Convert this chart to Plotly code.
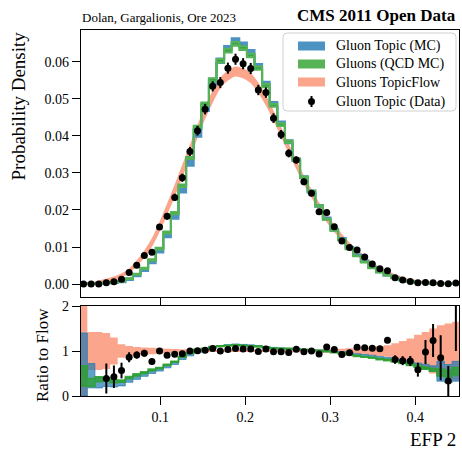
import numpy as np
import plotly.graph_objects as go

# ---- binning -------------------------------------------------------------
N_BINS = 50
BIN_LO, BIN_HI = 0.0052, 0.4522
X_RANGE = [0.0067, 0.4514]
edges = np.linspace(BIN_LO, BIN_HI, N_BINS + 1)
centers = 0.5 * (edges[:-1] + edges[1:])

# ---- densities per bin -----------------------------------------------------
flow = np.array([
    0.00010, 0.00025, 0.00050, 0.00090, 0.00140, 0.00230, 0.00360, 0.00560, 0.00810, 0.01120,
    0.01540, 0.02020, 0.02520, 0.03050, 0.03580, 0.04120, 0.04630, 0.05060, 0.05430, 0.05630,
    0.05740, 0.05690, 0.05560, 0.05300, 0.04960, 0.04550, 0.04100, 0.03660, 0.03230, 0.02800,
    0.02450, 0.02090, 0.01770, 0.01500, 0.01260, 0.01030, 0.00850, 0.00680, 0.00510, 0.00390,
    0.00290, 0.00210, 0.00140, 0.00090, 0.00065, 0.00045, 0.00030, 0.00020, 0.00015, 0.00010])
flow_rel_err = np.array([
    1.20, 0.42, 0.42, 0.40, 0.30, 0.15, 0.11, 0.09, 0.08, 0.07,
    0.06, 0.05, 0.045, 0.04, 0.035, 0.03, 0.027, 0.024, 0.02, 0.02,
    0.02, 0.02, 0.02, 0.02, 0.02, 0.02, 0.022, 0.024, 0.026, 0.028,
    0.03, 0.035, 0.04, 0.045, 0.05, 0.06, 0.07, 0.08, 0.10, 0.11,
    0.13, 0.17, 0.22, 0.28, 0.36, 0.42, 0.50, 0.57, 0.61, 0.65])

gluon_topic_mc = np.array([
    0.000070, 0.000113, 0.000150, 0.000252, 0.000378, 0.000644, 0.001296, 0.002352, 0.003888, 0.006048,
    0.009086, 0.013332, 0.018396, 0.025620, 0.032936, 0.040788, 0.047689, 0.054648, 0.060273, 0.063619,
    0.065723, 0.064582, 0.062550, 0.058830, 0.054064, 0.048685, 0.043460, 0.038430, 0.033592, 0.028840,
    0.024990, 0.021109, 0.017700, 0.014700, 0.012222, 0.009785, 0.007820, 0.006120, 0.004488, 0.003315,
    0.002407, 0.001680, 0.001078, 0.000657, 0.000449, 0.000293, 0.000183, 0.000110, 0.000075, 0.000055])
gluon_topic_mc_rel_err = np.array([
    1.00, 0.60, 0.40, 0.25, 0.25, 0.20, 0.15, 0.12, 0.09, 0.07,
    0.06, 0.05, 0.04, 0.035, 0.03, 0.025, 0.02, 0.015, 0.01, 0.01,
    0.01, 0.01, 0.01, 0.01, 0.01, 0.01, 0.01, 0.01, 0.01, 0.01,
    0.01, 0.012, 0.014, 0.016, 0.018, 0.02, 0.022, 0.025, 0.028, 0.03,
    0.032, 0.035, 0.04, 0.05, 0.06, 0.08, 0.10, 0.40, 0.40, 0.40])

gluons_qcd_mc = np.array([
    0.000045, 0.000075, 0.000185, 0.000333, 0.000462, 0.000759, 0.001476, 0.002632, 0.004212, 0.006496,
    0.009548, 0.013938, 0.019152, 0.026535, 0.034010, 0.042436, 0.048615, 0.055154, 0.060273, 0.063056,
    0.064862, 0.063728, 0.061716, 0.058300, 0.053568, 0.048230, 0.043050, 0.038430, 0.033592, 0.028840,
    0.024990, 0.021109, 0.017523, 0.014550, 0.011970, 0.009476, 0.007565, 0.005916, 0.004335, 0.003198,
    0.002320, 0.001617, 0.001036, 0.000630, 0.000429, 0.000279, 0.000174, 0.000104, 0.000075, 0.000055])
gluons_qcd_mc_rel_err = np.array([
    0.50, 0.30, 0.15, 0.10, 0.10, 0.08, 0.06, 0.05, 0.04, 0.03,
    0.025, 0.02, 0.015, 0.012, 0.008, 0.008, 0.008, 0.008, 0.008, 0.008,
    0.008, 0.008, 0.008, 0.008, 0.008, 0.008, 0.008, 0.008, 0.008, 0.008,
    0.008, 0.008, 0.008, 0.01, 0.01, 0.01, 0.012, 0.012, 0.014, 0.016,
    0.018, 0.02, 0.025, 0.03, 0.035, 0.04, 0.05, 0.15, 0.15, 0.15])

data = np.array([
    0.0, 0.0, 0.0, 0.00035, 0.00060, 0.00130, 0.00310, 0.00510, 0.00770, 0.00860,
    0.01540, 0.01830, 0.02340, 0.02870, 0.03580, 0.04140, 0.04720, 0.05340, 0.05440, 0.05830,
    0.06070, 0.05950, 0.05820, 0.05240, 0.05170, 0.04480, 0.04040, 0.03530, 0.03350, 0.02760,
    0.02450, 0.01950, 0.01930, 0.01550, 0.01160, 0.00990, 0.00920, 0.00730, 0.00540, 0.00410,
    0.00360, 0.00170, 0.00110, 0.00070, 0.00038, 0.00044, 0.00037, 0.00017, 0.00005, 0.00026])
data_err = np.array([
    0.0, 0.0, 0.0, 0.00030, 0.00035, 0.00040, 0.00040, 0.00045, 0.00060, 0.00070,
    0.00080, 0.00090, 0.00100, 0.00110, 0.00120, 0.00130, 0.00140, 0.00140, 0.00150, 0.00150,
    0.00150, 0.00150, 0.00150, 0.00140, 0.00140, 0.00130, 0.00120, 0.00110, 0.00100, 0.00090,
    0.00080, 0.00070, 0.00070, 0.00060, 0.00050, 0.00040, 0.00040, 0.00030, 0.00028, 0.00025,
    0.00020, 0.00020, 0.00014, 0.00010, 0.00010, 0.00012, 0.00011, 0.00010, 0.00005, 0.00016])

LABELS = ["Gluon Topic (MC)", "Gluons (QCD MC)", "Gluons TopicFlow", "Gluon Topic (Data)"]
MAIN_YTICKS = [0.00, 0.01, 0.02, 0.03, 0.04, 0.05, 0.06]
RATIO_YTICKS = [0, 1, 2]
XTICKS = [0.1, 0.2, 0.3, 0.4]

# ---- style ------------------------------------------------------------------
FONT = "Liberation Serif"
BLUE_FILL, BLUE_LINE = "rgba(31,119,180,0.8)", "rgb(76,146,195)"
GREEN_FILL, GREEN_LINE = "rgba(44,160,44,0.8)", "rgb(86,179,86)"
SALMON_FILL, SALMON_LINE = "rgba(250,150,120,0.85)", "rgb(251,166,140)"

W, H = 462, 458
ML, MR, MT, MB = 81, 3, 30, 62
PW, PH = W - ML - MR, H - MT - MB


def xp(px):
    return (px - ML) / PW


def yp(py):
    return (H - MB - py) / PH


def stepped(v):
    return np.append(v, v[-1])


fig = go.Figure()


def step_band(lo, hi, fill, line, xa, ya, lw=1.2):
    fig.add_trace(go.Scatter(x=edges, y=stepped(hi), mode="lines", xaxis=xa, yaxis=ya,
                             line=dict(shape="hv", color=line, width=lw),
                             showlegend=False, hoverinfo="skip"))
    fig.add_trace(go.Scatter(x=edges, y=stepped(lo), mode="lines", xaxis=xa, yaxis=ya,
                             line=dict(shape="hv", color=line, width=lw), fill="tonexty",
                             fillcolor=fill, showlegend=False, hoverinfo="skip"))


# ---- main panel -------------------------------------------------------------
flow_hi = flow * (1 + flow_rel_err)
flow_lo = np.clip(flow * (1 - flow_rel_err), 0, None)
fig.add_trace(go.Scatter(x=centers, y=flow_hi, mode="lines", xaxis="x", yaxis="y",
                         line=dict(color=SALMON_LINE, width=1.5, shape="spline"),
                         showlegend=False, hoverinfo="skip"))
fig.add_trace(go.Scatter(x=centers, y=flow_lo, mode="lines", xaxis="x", yaxis="y",
                         line=dict(color=SALMON_LINE, width=1.5, shape="spline"), fill="tonexty",
                         fillcolor=SALMON_LINE, showlegend=False, hoverinfo="skip"))

step_band(gluon_topic_mc * (1 - gluon_topic_mc_rel_err), gluon_topic_mc * (1 + gluon_topic_mc_rel_err),
          BLUE_FILL, BLUE_LINE, "x", "y", lw=2)
step_band(gluons_qcd_mc * (1 - gluons_qcd_mc_rel_err), gluons_qcd_mc * (1 + gluons_qcd_mc_rel_err),
          GREEN_FILL, GREEN_LINE, "x", "y", lw=2)

fig.add_trace(go.Scatter(x=centers, y=data, mode="markers", xaxis="x", yaxis="y",
                         marker=dict(color="black", size=7),
                         error_y=dict(type="data", array=data_err, color="black", thickness=2, width=0),
                         showlegend=False, hoverinfo="skip"))

# ---- ratio panel ------------------------------------------------------------
step_band(np.clip(1 - flow_rel_err, 0, None), 1 + flow_rel_err, SALMON_FILL, "rgba(250,150,120,0.0)",
          "x2", "y2", lw=0)
r_blue = gluon_topic_mc / flow
step_band(r_blue * (1 - gluon_topic_mc_rel_err), r_blue * (1 + gluon_topic_mc_rel_err),
          "rgba(31,119,180,0.7)", "rgba(31,119,180,0.7)", "x2", "y2", lw=1)
r_green = gluons_qcd_mc / flow
step_band(r_green * (1 - gluons_qcd_mc_rel_err), r_green * (1 + gluons_qcd_mc_rel_err),
          "rgba(44,160,44,0.75)", "rgba(44,160,44,0.85)", "x2", "y2", lw=1.5)

has_data = data > 0
r_data = np.where(has_data, data / flow, np.nan)
r_err = np.where(has_data, data_err / flow, np.nan)
fig.add_trace(go.Scatter(x=centers, y=r_data, mode="markers", xaxis="x2", yaxis="y2",
                         marker=dict(color="black", size=7),
                         error_y=dict(type="data", array=r_err, color="black", thickness=2, width=0),
                         showlegend=False, hoverinfo="skip"))

# ---- axes -------------------------------------------------------------------
axis_common = dict(showline=True, linecolor="black", linewidth=1.3, mirror=True,
                   ticks="outside", ticklen=8, tickwidth=1.2, tickcolor="black",
                   showgrid=False, zeroline=False,
                   tickfont=dict(family=FONT, size=14, color="black"))
split = (H - MB - 297) / PH
fig.update_layout(
    width=W, height=H, margin=dict(l=ML, r=MR, t=MT, b=MB),
    paper_bgcolor="white", plot_bgcolor="white", showlegend=False,
    xaxis=dict(anchor="y", domain=[0, 1], range=X_RANGE, tickvals=XTICKS,
               showticklabels=False, **axis_common),
    yaxis=dict(anchor="x", domain=[split, 1], range=[-0.0035, 0.0686],
               tickvals=MAIN_YTICKS, tickformat=".2f", **axis_common),
    xaxis2=dict(anchor="y2", domain=[0, 1], range=X_RANGE, tickvals=XTICKS,
                ticktext=[str(t) for t in XTICKS], matches="x", **axis_common),
    yaxis2=dict(anchor="x2", domain=[0, (H - MB - 306) / PH], range=[0, 2],
                tickvals=RATIO_YTICKS, **axis_common),
)

# ---- text -------------------------------------------------------------------
ann = []
ann.append(dict(text="Dolan, Gargalionis, Ore 2023", x=xp(80), y=yp(17), xanchor="left",
                yanchor="middle", font=dict(family=FONT, size=13, color="black")))
ann.append(dict(text="<b>CMS 2011 Open Data</b>", x=xp(458), y=yp(16), xanchor="right",
                yanchor="middle", font=dict(family=FONT, size=17, color="black")))
ann.append(dict(text="Probability Density", x=xp(18), y=yp(30), xanchor="center", yanchor="top",
                textangle=-90, font=dict(family=FONT, size=19, color="black")))
ann.append(dict(text="Ratio to Flow", x=xp(42), y=yp(306), xanchor="center", yanchor="top",
                textangle=-90, font=dict(family=FONT, size=17, color="black")))
ann.append(dict(text="EFP 2", x=xp(458), y=yp(440), xanchor="right", yanchor="middle",
                font=dict(family=FONT, size=19, color="black")))

# legend box
shapes = []
L, T, R, B, rad = 283, 33, 456, 111, 4
path = (f"M {xp(L + rad)},{yp(T)} L {xp(R - rad)},{yp(T)} Q {xp(R)},{yp(T)} {xp(R)},{yp(T + rad)} "
        f"L {xp(R)},{yp(B - rad)} Q {xp(R)},{yp(B)} {xp(R - rad)},{yp(B)} "
        f"L {xp(L + rad)},{yp(B)} Q {xp(L)},{yp(B)} {xp(L)},{yp(B - rad)} "
        f"L {xp(L)},{yp(T + rad)} Q {xp(L)},{yp(T)} {xp(L + rad)},{yp(T)} Z")
shapes.append(dict(type="path", path=path, xref="paper", yref="paper",
                   line=dict(color="#d0d0d0", width=1), fillcolor="rgba(255,255,255,0.8)",
                   layer="above"))
rows = [46, 64, 82, 101.5]
swatches = [BLUE_LINE, GREEN_LINE, SALMON_LINE]
for yrow, col in zip(rows[:3], swatches):
    shapes.append(dict(type="rect", xref="paper", yref="paper", x0=xp(298), x1=xp(325),
                       y0=yp(yrow - 4.5), y1=yp(yrow + 4.5), fillcolor=col,
                       line=dict(width=0), layer="above"))
shapes.append(dict(type="line", xref="paper", yref="paper", x0=xp(311.5), x1=xp(311.5),
                   y0=yp(rows[3] - 5.5), y1=yp(rows[3] + 5.5), line=dict(color="black", width=2),
                   layer="above"))
shapes.append(dict(type="circle", xref="paper", yref="paper", x0=xp(308), x1=xp(315),
                   y0=yp(rows[3] - 3.5), y1=yp(rows[3] + 3.5), fillcolor="black",
                   line=dict(width=0), layer="above"))
for yrow, lab in zip(rows, LABELS):
    ann.append(dict(text=lab, x=xp(334), y=yp(yrow), xanchor="left", yanchor="middle",
                    font=dict(family=FONT, size=14, color="black")))

for a in ann:
    a.update(xref="paper", yref="paper", showarrow=False)
fig.update_layout(annotations=ann, shapes=shapes)

fig.write_html("out.html")
